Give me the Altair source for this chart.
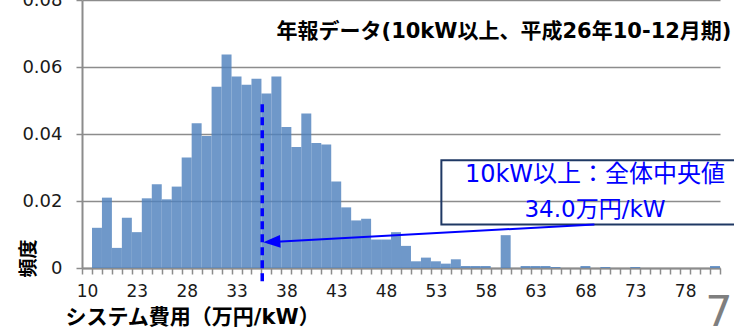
import json

import altair as alt
import pandas as pd

# Cost bins (万円/kW): the first bin is the low-end bucket labelled "10",
# followed by 1-unit bins from 19 to 81.
categories = ["10"] + [str(v) for v in range(19, 82)]

# Relative frequency of each bin
freq = [
    0, 0.012, 0.021, 0.006, 0.015, 0.0107, 0.0208, 0.025, 0.0205, 0.0243,
    0.033, 0.0432, 0.0394, 0.0541, 0.0637, 0.0572, 0.0547, 0.0565, 0.0521, 0.0572,
    0.0421, 0.0361, 0.0461, 0.0373, 0.0369, 0.0258, 0.0181, 0.0142, 0.0147, 0.0085,
    0.0085, 0.0107, 0.0066, 0.002, 0.0031, 0.002, 0.0013, 0.0026, 0.0006, 0.0006,
    0.0006, 0, 0.0098, 0, 0.0006, 0.0006, 0.0006, 0.0003, 0, 0,
    0.0006, 0, 0.0003, 0, 0, 0.0003, 0, 0, 0, 0,
    0, 0, 0, 0.0006,
]

y_ticks = [0, 0.02, 0.04, 0.06, 0.08]

title_text = "年報データ(10kW以上、平成26年10-12月期)"
median_line1 = "10kW以上：全体中央値"
median_line2 = "34.0万円/kW"
page_number = "7"
x_title = "システム費用（万円/kW）"
y_title = "頻度"

# position of the median marker on the bin axis (bin-index units)
median_marker_pos = 18.08

FONT = "DejaVu Sans, Noto Sans CJK JP"
GRID = "#8c8c8c"
BLUE = "#0000ff"

n = len(categories)
bars_df = pd.DataFrame({
    "bin": list(range(n)),
    "bin_end": [i + 1 for i in range(n)],
    "freq": freq,
})

x_scale = alt.Scale(domain=[0, n], nice=False, zero=False)
y_scale = alt.Scale(domain=[0, 0.08], nice=False, zero=True)

cats_js = json.dumps(categories, ensure_ascii=False)
x_label_expr = (
    f"(datum.value % 5 == 0 && datum.value < {n}) ? {cats_js}[datum.value] : ''"
)

x_axis = alt.Axis(
    values=list(range(n + 1)),
    labelExpr=x_label_expr,
    labelOverlap=False,
    labelFlush=False,
    labelBound=False,
    labelOffset=5,
    labelAngle=0,
    labelFont="DejaVu Sans",
    labelFontSize=17,
    labelColor="#1a1a1a",
    labelPadding=9,
    labelBaseline="top",
    tickSize=6,
    tickColor=GRID,
    tickWidth=1.5,
    domainColor=GRID,
    domainWidth=2,
    grid=False,
    title=x_title,
    titleFont=FONT,
    titleFontSize=21,
    titleFontWeight="bold",
    titleColor="#000000",
    titleAlign="left",
    titleBaseline="middle",
    titleX=-17,
    titleY=49,
)

y_axis = alt.Axis(
    values=y_ticks,
    labelExpr="datum.value == 0 ? '0' : format(datum.value, '.2f')",
    labelFont="DejaVu Sans",
    labelFontSize=18,
    labelColor="#1a1a1a",
    labelPadding=14,
    tickSize=6,
    tickColor=GRID,
    tickWidth=1.5,
    domainColor=GRID,
    domainWidth=2,
    grid=True,
    gridColor=GRID,
    gridWidth=1.5,
    title=y_title,
    titleFont="Noto Sans CJK JP",
    titleFontSize=19,
    titleFontWeight="bold",
    titleColor="#000000",
    titleAngle=270,
    titleAlign="center",
    titleBaseline="middle",
    titleX=-54,
    titleY=258,
)

X = alt.X("bin:Q", scale=x_scale, axis=x_axis)
Y = alt.Y("freq:Q", scale=y_scale, axis=y_axis)

bars = alt.Chart(bars_df).mark_rect(color="#4f81bd", opacity=0.82).encode(
    x=X,
    x2="bin_end:Q",
    y=Y,
    y2=alt.datum(0),
)

# dashed median marker, running a little below the axis
median_rule = alt.Chart(
    alt.Data(values=[{"bin": median_marker_pos, "freq": 0.0489, "freq2": -0.0046}])
).mark_rule(color=BLUE, strokeWidth=3.5, strokeDash=[8, 5]).encode(
    x=X, y=Y, y2="freq2:Q",
)

# callout box around the median label
box = alt.Chart(
    alt.Data(values=[{"bin": 36.05, "bin2": 66, "freq": 0.0322, "freq2": 0.0130}])
).mark_rect(fillOpacity=0, stroke="#1f3864", strokeWidth=2).encode(
    x=X, x2="bin2:Q", y=Y, y2="freq2:Q",
)

# arrow from the callout to the median marker
arrow_line = alt.Chart(
    alt.Data(values=[{"bin": 18.6, "freq": 0.0077}, {"bin": 51.4, "freq": 0.0130}])
).mark_line(color=BLUE, strokeWidth=2).encode(x=X, y=Y)

arrow_head = alt.Chart(
    alt.Data(values=[{"bin": 19.04, "freq": 0.0078}])
).mark_point(
    shape="M1,-0.75L-1,0L1,0.75Z",
    filled=True,
    color=BLUE,
    opacity=1,
    size=289,
    angle=356.9,
).encode(x=X, y=Y)


def text_layer(text, x, y, size, color="#000000", weight="normal",
               align="center", baseline="middle", font=FONT):
    return alt.Chart(alt.Data(values=[{"t": text}])).mark_text(
        font=font,
        fontSize=size,
        fontWeight=weight,
        color=color,
        align=align,
        baseline=baseline,
    ).encode(x=alt.value(x), y=alt.value(y), text="t:N")


title = text_layer(title_text, 422, 32, 21, weight="bold")
callout1 = text_layer(median_line1, 513, 175, 24, color=BLUE)
callout2 = text_layer(median_line2, 513, 209.5, 23, color=BLUE)
page = text_layer(page_number, 637, 326, 43, color="#7f7f7f",
                  baseline="alphabetic", font="DejaVu Sans")

chart = alt.layer(
    bars, median_rule, box, arrow_line, arrow_head,
    title, callout1, callout2, page,
).properties(
    width=638,
    height=268,
    padding={"left": 82, "top": 0, "right": 14, "bottom": 61},
    autosize=alt.AutoSizeParams(type="none"),
    background="white",
).configure_view(stroke=None)

chart.save("out.html", embed_options={"renderer": "svg", "actions": False})
